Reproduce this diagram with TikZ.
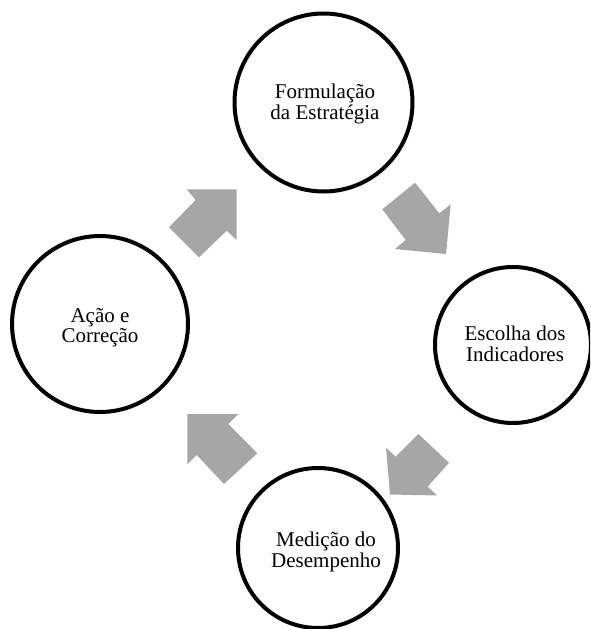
\documentclass[tikz,border=0pt]{standalone}
\usepackage{fontspec}
\setmainfont{Liberation Serif}
\definecolor{arrowgray}{RGB}{166,166,166}
\tikzset{
  stage/.style={circle, draw=black, line width=4pt, inner sep=0pt, outer sep=0pt},
  lbl/.style={align=center, font=\fontsize{21}{20.5}\selectfont, inner sep=0pt},
  blockarrow/.style={fill=arrowgray, draw=none},
}
\begin{document}
\begin{tikzpicture}[x=1pt,y=-1pt]
\useasboundingbox (0,0) rectangle (590,629);
\clip (0,0) rectangle (590,629);
% stages
\node[stage, minimum size=178pt] (s1) at (323.5,102.5) {};
\node[stage, minimum size=156pt] (s2) at (513,345) {};
\node[stage, minimum size=160pt] (s3) at (318,548) {};
\node[stage, minimum size=176pt] (s4) at (100,324) {};
% labels
\node[lbl] (t1) at (325,104) {Formulação\\da Estratégia};
\node[lbl] (t2) at (515,344) {Escolha dos\\Indicadores};
\node[lbl] (t3) at (326,552) {Medição do\\Desempenho};
\node[lbl] (t4) at (100,327.5) {Ação e\\Correção};
% block arrows
\fill[blockarrow] (236.7,189.3) -- (186.7,189.3) -- (195.7,200) -- (169,227.3)
  -- (199,257.3) -- (226.7,230.7) -- (236.7,240) -- cycle;
\fill[blockarrow] (446,254) -- (450.7,204.3) -- (439.3,213.3) -- (415,182.7)
  -- (382.3,209.3) -- (405.7,240) -- (395,249) -- cycle;
\fill[blockarrow] (390,494.5) -- (386,447.7) -- (395.7,456.7) -- (418.3,434)
  -- (449,462.7) -- (427.7,486.7) -- (437.3,495.5) -- cycle;
\fill[blockarrow] (187.3,414) -- (238.3,414) -- (228.3,424) -- (257.3,453.3)
  -- (224,484) -- (196.7,455) -- (187.3,464.3) -- cycle;
\end{tikzpicture}
\end{document}
